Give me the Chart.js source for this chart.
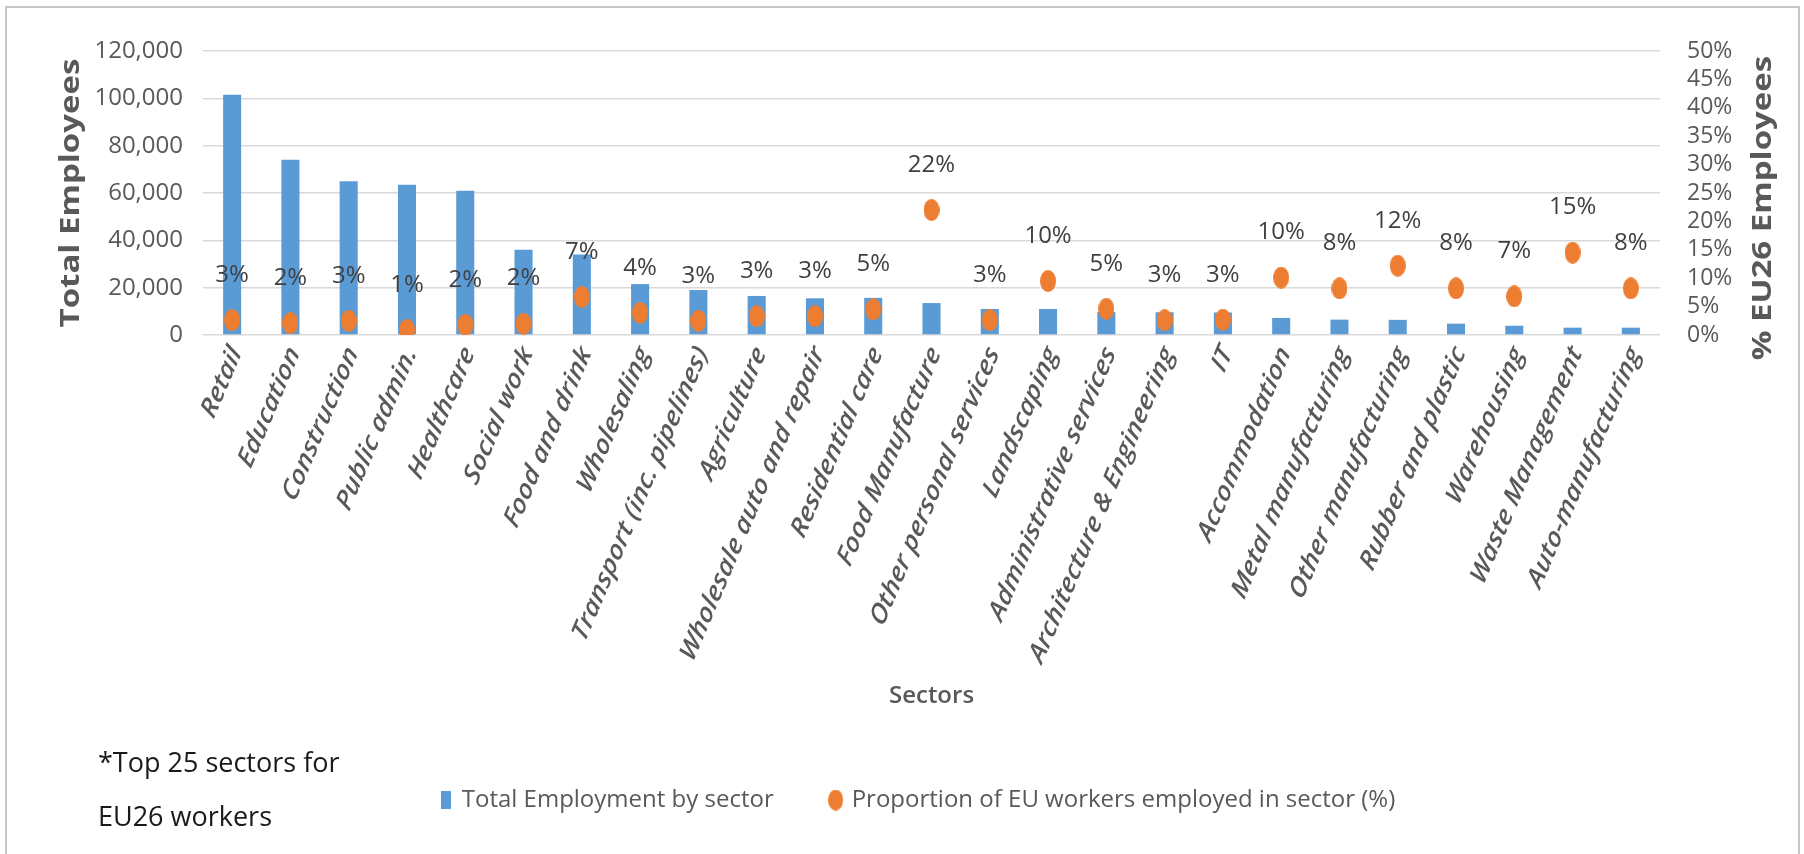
<!DOCTYPE html>
<html>
<head>
<meta charset="utf-8">
<title>Top 25 sectors for EU26 workers</title>
<script src="https://cdn.jsdelivr.net/npm/chart.js@4.4.1/dist/chart.umd.min.js"></script>
<style>
  html, body { margin: 0; padding: 0; background: #fff; }
  #wrap { position: relative; width: 1804px; height: 854px; overflow: hidden; }
  #frame { position: absolute; left: 5px; top: 6px; right: 4px; bottom: -10px; border: 2px solid #c6c6c6; }
  #note { position: absolute; left: 98px; top: 735px; font: 27px/54px "Open Sans", sans-serif; color: #1a1a1a; }
  canvas { position: absolute; left: 0; top: 0; }
</style>
</head>
<body>
<div id="wrap">
  <div id="frame"></div>
  <canvas id="sectorChart" width="1804" height="854"></canvas>
  <div id="note">*Top 25 sectors for<br>EU26 workers</div>
</div>
<script>
"use strict";

const sectors = [
  "Retail", "Education", "Construction", "Public admin.", "Healthcare",
  "Social work", "Food and drink", "Wholesaling", "Transport (inc. pipelines)",
  "Agriculture", "Wholesale auto and repair", "Residential care",
  "Food Manufacture", "Other personal services", "Landscaping",
  "Administrative services", "Architecture & Engineering", "IT",
  "Accommodation", "Metal manufacturing", "Other manufacturing",
  "Rubber and plastic", "Warehousing", "Waste Management", "Auto-manufacturing"
];

// total employees per sector
const totalEmployment = [
  101500, 74000, 65000, 63500, 61000,
  36000, 34000, 21500, 19000,
  16500, 15500, 15700,
  13500, 11000, 11000,
  9700, 9600, 9500,
  7200, 6500, 6400,
  4800, 3900, 3100, 3100
];

// share of EU workers in each sector (%)
const euShare = [
  2.6, 2.1, 2.5, 0.9, 1.8,
  2.0, 6.7, 3.9, 2.5,
  3.3, 3.3, 4.5,
  22.0, 2.6, 9.5,
  4.6, 2.6, 2.7,
  10.1, 8.2, 12.2,
  8.2, 6.8, 14.5, 8.2
];

const employeeAxis = { max: 120000, step: 20000 };
const shareAxis = { max: 50, step: 5 };

const seriesNames = [
  "Total Employment by sector",
  "Proportion of EU workers employed in sector (%)"
];

const BLUE = "#5b9bd5";
const ORANGE = "#ed7d31";
const GREY = "#595959";
const FONT = "'Open Sans', sans-serif";
const SQUEEZE = 0.8; // horizontal squeeze used for the slanted and upright text

// orange marker, a little taller than wide
function ellipseMarker(w, h, color) {
  const c = document.createElement("canvas");
  c.width = w;
  c.height = h;
  const g = c.getContext("2d");
  g.fillStyle = color;
  g.beginPath();
  g.ellipse(w / 2, h / 2, w / 2, h / 2, 0, 0, Math.PI * 2);
  g.fill();
  return c;
}

function rectMarker(w, h, color) {
  const c = document.createElement("canvas");
  c.width = w;
  c.height = h;
  const g = c.getContext("2d");
  g.fillStyle = color;
  g.fillRect(0, 0, w, h);
  return c;
}

const dotStyle = ellipseMarker(16, 22, ORANGE);
const legendDot = ellipseMarker(15, 21, ORANGE);
const legendBar = rectMarker(10, 18, BLUE);

function drawTurned(ctx, text, x, y, angle) {
  ctx.save();
  ctx.translate(x, y);
  ctx.scale(SQUEEZE, 1);
  ctx.rotate(-angle);
  ctx.fillText(text, 0, 0);
  ctx.restore();
}

const axisTitles = {
  id: "axisTitles",
  afterDraw(chart) {
    const ctx = chart.ctx;
    const area = chart.chartArea;
    ctx.save();
    ctx.fillStyle = GREY;
    ctx.font = "bold 33px " + FONT;
    ctx.textAlign = "center";
    ctx.textBaseline = "middle";
    drawTurned(ctx, "Total Employees", chart.scales.y.left + 19, (area.top + area.bottom) / 2, Math.PI / 2);
    drawTurned(ctx, "% EU26 Employees", chart.scales.y1.right - 22, area.top + 157, Math.PI / 2);
    ctx.restore();
  }
};

// slanted sector names under each category tick
const sectorLabels = {
  id: "sectorLabels",
  afterDraw(chart) {
    const ctx = chart.ctx;
    const xs = chart.scales.x;
    ctx.save();
    ctx.fillStyle = GREY;
    ctx.font = "italic 600 29px " + FONT;
    ctx.textAlign = "right";
    ctx.textBaseline = "middle";
    sectors.forEach((name, i) => {
      drawTurned(ctx, name, xs.getPixelForTick(i) + 4, xs.top + 14, 62 * Math.PI / 180);
    });
    ctx.restore();
  }
};

const shareLabels = {
  id: "shareLabels",
  afterDatasetsDraw(chart) {
    const ctx = chart.ctx;
    const meta = chart.getDatasetMeta(1);
    ctx.save();
    ctx.fillStyle = "#404040";
    ctx.font = "24px " + FONT;
    ctx.textAlign = "center";
    ctx.textBaseline = "middle";
    meta.data.forEach((pt, i) => {
      ctx.fillText(Math.round(euShare[i]) + "%", pt.x, pt.y - 45);
    });
    ctx.restore();
  }
};

const ctx = document.getElementById("sectorChart").getContext("2d");
const sectorChart = new Chart(ctx, {
  data: {
    labels: sectors,
    datasets: [
      {
        type: "bar",
        label: seriesNames[0],
        data: totalEmployment,
        backgroundColor: BLUE,
        yAxisID: "y",
        barPercentage: 0.31,
        categoryPercentage: 1,
        pointStyle: legendBar,
        order: 1
      },
      {
        type: "line",
        label: seriesNames[1],
        data: euShare,
        yAxisID: "y1",
        showLine: false,
        pointStyle: dotStyle,
        pointRadius: 10,
        backgroundColor: ORANGE,
        borderColor: ORANGE,
        order: 0
      }
    ]
  },
  options: {
    responsive: false,
    animation: false,
    layout: { padding: { left: 52, right: 19, top: 51, bottom: 32 } },
    plugins: {
      tooltip: { enabled: false },
      legend: {
        position: "bottom",
        labels: {
          usePointStyle: true,
          boxWidth: 8,
          padding: 58,
          color: GREY,
          font: { family: FONT, size: 24 },
          sort: (a, b) => a.datasetIndex - b.datasetIndex,
          generateLabels(chart) {
            const items = Chart.defaults.plugins.legend.labels.generateLabels(chart);
            items.forEach((it) => {
              it.pointStyle = it.datasetIndex === 0 ? legendBar : legendDot;
            });
            return items;
          }
        }
      }
    },
    scales: {
      x: {
        grid: { display: false },
        border: { display: false },
        ticks: { display: false, autoSkip: false },
        title: {
          display: true,
          text: "Sectors",
          color: GREY,
          font: { family: FONT, size: 24, weight: "600" },
          padding: { top: 0, bottom: 19 }
        },
        afterFit(scale) { scale.height = 395; }
      },
      y: {
        position: "left",
        min: 0,
        max: employeeAxis.max,
        border: { display: false },
        grid: { color: "#d9d9d9", lineWidth: 1.5, drawTicks: false },
        ticks: {
          stepSize: employeeAxis.step,
          padding: 20,
          color: GREY,
          font: { family: FONT, size: 24 },
          callback: (v) => v.toLocaleString("en-US")
        },
        afterFit(scale) { scale.width = 151; }
      },
      y1: {
        position: "right",
        min: 0,
        max: shareAxis.max,
        border: { display: false },
        grid: { display: false, drawTicks: false },
        ticks: {
          stepSize: shareAxis.step,
          autoSkip: false,
          padding: 27,
          color: GREY,
          font: { family: FONT, size: 23 },
          callback: (v) => v + "%"
        },
        afterFit(scale) { scale.width = 125; }
      }
    }
  },
  plugins: [shareLabels, sectorLabels, axisTitles]
});
</script>
</body>
</html>
